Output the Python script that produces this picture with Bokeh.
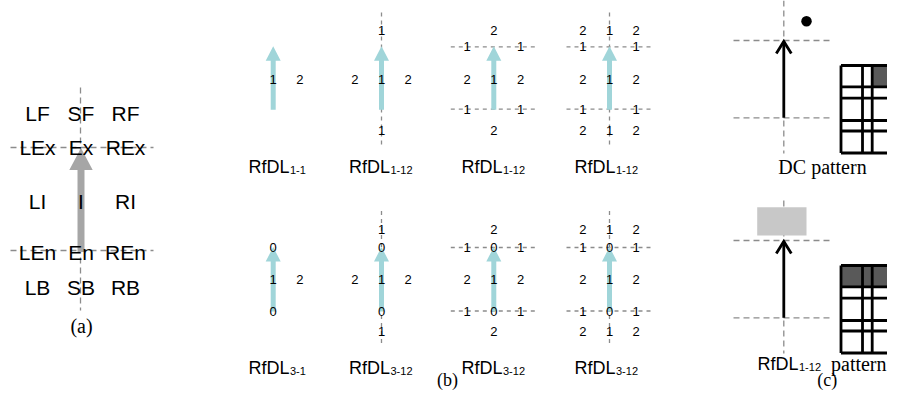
from bokeh.plotting import figure
from bokeh.models import Range1d
from bokeh.core.properties import value
from bokeh.embed import file_html
from bokeh.resources import INLINE

SANS = "Liberation Sans"
SERIF = "Liberation Serif"
DASH_COLOR = "#8c8c8c"
TEAL = "#a0d5d9"

# ---------------- panel (a): zone labels ----------------
a_rows = [["LF", "SF", "RF"],
          ["LEx", "Ex", "REx"],
          ["LI", "I", "RI"],
          ["LEn", "En", "REn"],
          ["LB", "SB", "RB"]]
a_col_x = [37.0, 80.5, 125.0]
a_row_y = [112.8, 146.7, 200.8, 251.7, 286.7]
a_hlines_y = [147.0, 250.0]
a_caption = "(a)"

# ---------------- panel (b): RfDL patterns ----------------
b_top_patterns = [
    ["   ", "   ", " 12", "   ", "   "],
    [" 1 ", "   ", "212", "   ", " 1 "],
    [" 2 ", "1 1", "212", "1 1", " 2 "],
    ["212", "1 1", "212", "1 1", "212"],
]
b_bot_patterns = [
    ["   ", " 0 ", " 12", " 0 ", "   "],
    [" 1 ", " 0 ", "212", " 0 ", " 1 "],
    [" 2 ", "101", "212", "101", " 2 "],
    ["212", "101", "212", "101", "212"],
]
b_col_x = [272.7, 381.0, 493.3, 609.0]
b_vertical = [False, True, False, True]
b_horizontal = [False, False, True, True]
b_top_sub = ["1-1", "1-12", "1-12", "1-12"]
b_bot_sub = ["3-1", "3-12", "3-12", "3-12"]
b_caption_split_x = [289.0, 389.5, 502.0, 615.0]
b_top_rows_y = [30.0, 46.3, 78.7, 108.7, 130.0]
b_bot_rows_y = [228.5, 247.0, 278.5, 310.5, 330.5]
b_top_caption_y = 166.7
b_bot_caption_y = 367.8
b_caption = "(b)"

# ---------------- panel (c): patterns ----------------
c_x = 783.3
c_top_lines = [40.0, 117.3]
c_bot_lines = [240.0, 317.3]
c_dot = (806.0, 20.7)
c_box = (756.7, 806.0, 206.7, 235.0)
c_grid_x = [840.5, 862.0, 871.7, 893.0, 902.5, 924.0]
c_grid_row_offsets = [0.0, 21.3, 32.7, 55.0, 65.5, 87.5]
c_grid_tops = [65.0, 265.0]
c_caption = "(c)"

W, H = 887, 391
p = figure(width=W, height=H, x_range=Range1d(0, W), y_range=Range1d(H, 0),
           output_backend="svg", toolbar_location=None, min_border=0,
           x_axis_location=None, y_axis_location=None)
p.grid.visible = False
p.outline_line_color = None
p.background_fill_color = "white"
p.border_fill_color = "white"


def dashed(x0, y0, x1, y1, dash="5 4"):
    p.segment(x0=x0, y0=y0, x1=x1, y1=y1, line_color=DASH_COLOR, line_width=1.3,
              line_dash=dash)


def arrow_poly(x, tip, bottom, shaft_w, head_hw, head_len):
    base = tip + head_len
    xs = [x - shaft_w / 2, x - shaft_w / 2, x - head_hw, x, x + head_hw, x + shaft_w / 2, x + shaft_w / 2]
    ys = [bottom, base, base, tip, base, base, bottom]
    return xs, ys


def txt(xs, ys, texts, size, font=SANS, align="center", color="#000000"):
    p.text(x=xs, y=ys, text=texts, text_font=value(font), text_font_size=size,
           text_align=align, text_baseline="middle", text_color=color)


# ---- panel (a)
dashed([a_col_x[1] - 0.5], [87.0], [a_col_x[1] - 0.5], [310.0], "6 4")
dashed([10.0, 10.0], a_hlines_y, [153.0, 153.0], a_hlines_y, "6 4")
xs, ys = arrow_poly(a_col_x[1], a_hlines_y[0] + 0.5, a_hlines_y[1] + 1.5, 7.0, 11.7, 22.0)
p.patch(xs, ys, fill_color="#a6a6a6", line_color=None)
ax, ay, at = [], [], []
for r, row in enumerate(a_rows):
    for c, lab in enumerate(row):
        ax.append(a_col_x[c]); ay.append(a_row_y[r]); at.append(lab)
txt(ax, ay, at, "21px")
txt([81.0], [325.0], [a_caption], "20px", font=SERIF)

# ---- panel (b)
for patterns, rows_y, subs, cap_y in [
        (b_top_patterns, b_top_rows_y, b_top_sub, b_top_caption_y),
        (b_bot_patterns, b_bot_rows_y, b_bot_sub, b_bot_caption_y)]:
    for i, pat in enumerate(patterns):
        cx = b_col_x[i]
        if b_vertical[i]:
            dashed([cx], [rows_y[0] - 18], [cx], [rows_y[4] + 14], "4 4")
        if b_horizontal[i]:
            dashed([cx - 43, cx - 43], [rows_y[1], rows_y[3]], [cx + 45, cx + 45],
                   [rows_y[1], rows_y[3]], "4 4")
        xs, ys = arrow_poly(cx, rows_y[1] - 0.5, rows_y[3] + 0.5, 5.0, 7.5, 14.5)
        p.patch(xs, ys, fill_color=TEAL, line_color=None)
        dx, dy, dt = [], [], []
        for r, line in enumerate(pat):
            for c, ch in enumerate(line):
                if ch != " ":
                    dx.append(cx + (c - 1) * 26.7); dy.append(rows_y[r]); dt.append(ch)
        txt(dx, dy, dt, "13px")
        txt([b_caption_split_x[i]], [cap_y], ["RfDL"], "18px", align="right")
        txt([b_caption_split_x[i] + 0.5], [cap_y + 2.8], [subs[i]], "11px", align="left")
txt([447.0], [379.8], [b_caption], "18px", font=SERIF)

# ---- panel (c)
for lines, vtop, vbot in [(c_top_lines, 0.0, 153.0), (c_bot_lines, 200.0, 353.0)]:
    dashed([c_x], [vtop], [c_x], [vbot], "6 4")
    dashed([733.0, 733.0], lines, [830.0, 830.0], lines, "6 4")

# gray box above the bottom pattern
p.quad(left=[c_box[0]], right=[c_box[1]], top=[c_box[2]], bottom=[c_box[3]],
       fill_color="#c8c8c8", line_color=None)
# dot above the top pattern
p.scatter(x=[c_dot[0]], y=[c_dot[1]], size=10.5, marker="circle", fill_color="black", line_color=None)

for lines in (c_top_lines, c_bot_lines):
    tip, bottom = lines
    p.multi_line(xs=[[c_x, c_x], [c_x - 7.5, c_x, c_x + 7.5]],
                 ys=[[bottom, tip + 1], [tip + 13, tip + 1, tip + 13]],
                 line_color="black", line_width=2.8, line_join="miter")

# grids
for g, top in enumerate(c_grid_tops):
    ys_rows = [top + o for o in c_grid_row_offsets]
    if g == 0:
        p.quad(left=[c_grid_x[2]], right=[c_grid_x[3]], top=[ys_rows[0]], bottom=[ys_rows[1]],
               fill_color="#595959", line_color=None)
    else:
        p.quad(left=[c_grid_x[0]], right=[c_grid_x[-1]], top=[ys_rows[0]], bottom=[ys_rows[1]],
               fill_color="#595959", line_color=None)
    p.segment(x0=[c_grid_x[0]] * len(ys_rows), y0=ys_rows,
              x1=[c_grid_x[-1]] * len(ys_rows), y1=ys_rows,
              line_color="black", line_width=2.8)
    p.segment(x0=c_grid_x, y0=[ys_rows[0]] * len(c_grid_x),
              x1=c_grid_x, y1=[ys_rows[-1]] * len(c_grid_x),
              line_color="black", line_width=2.8)

txt([822.0], [166.3], ["DC pattern"], "20px", font=SERIF)
txt([798.0], [363.5], ["RfDL"], "18px", align="right")
txt([798.5], [366.3], ["1-12"], "11px", align="left")
txt([830.5], [363.5], ["pattern"], "20px", font=SERIF, align="left")
txt([826.7], [379.8], [c_caption], "18px", font=SERIF)

open("out.html", "w").write(file_html(p, INLINE))
